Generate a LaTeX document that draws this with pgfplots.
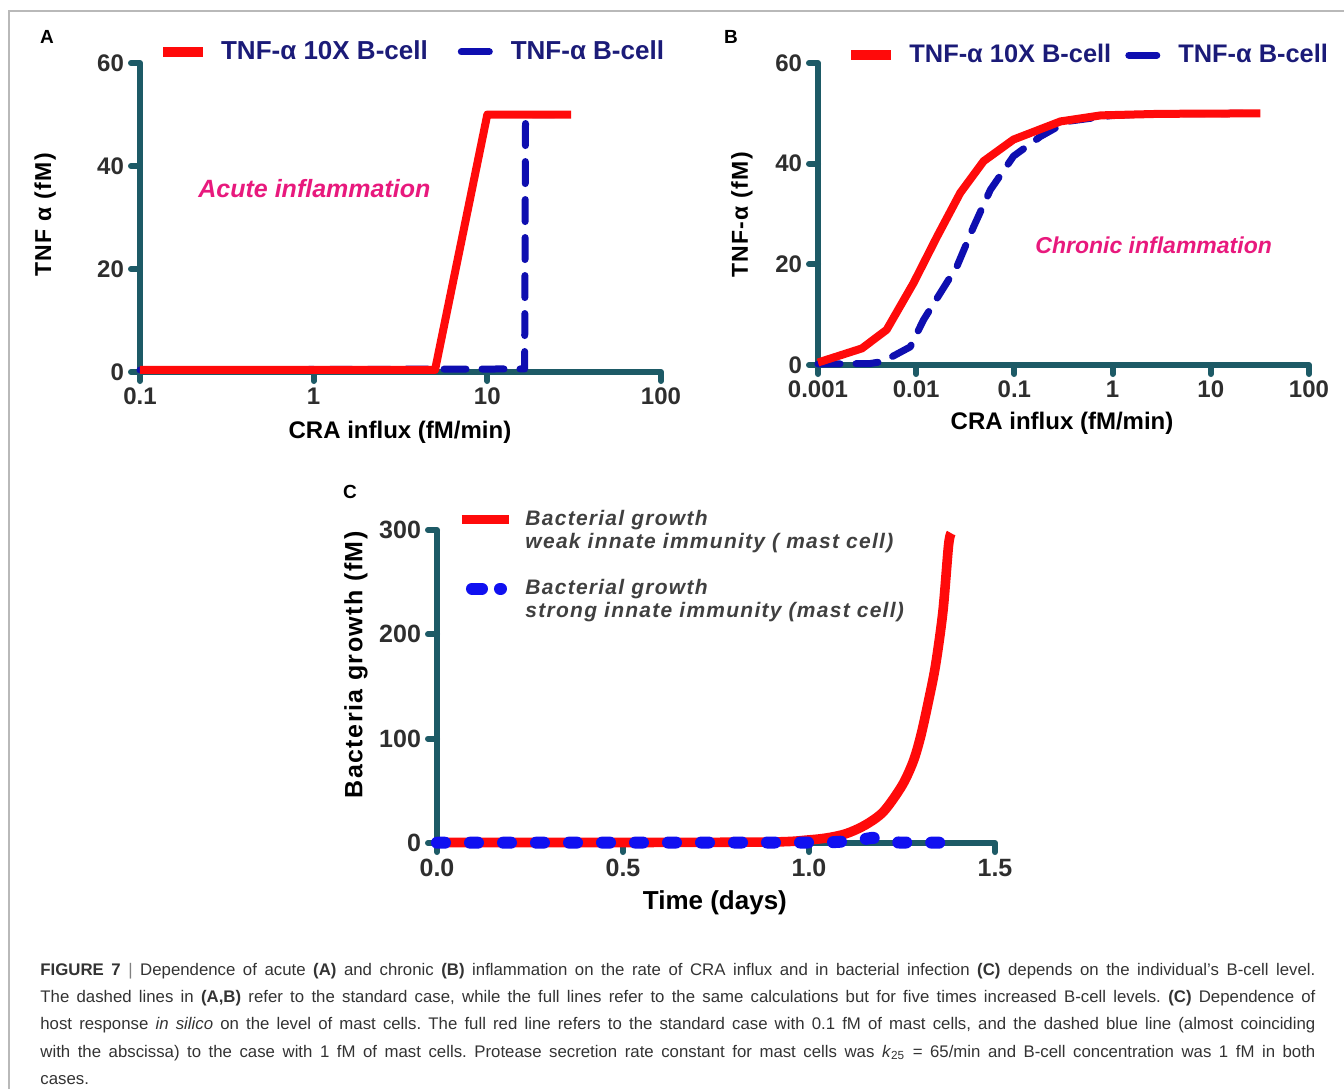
\documentclass[border=0pt]{standalone}
\usepackage{pgfplots}
\pgfplotsset{compat=1.18}
\usepackage{fontspec}
\setmainfont{Liberation Sans}
\newfontfamily\spaced[LetterSpace=6]{Liberation Sans}

\definecolor{axc}{HTML}{1D5A66}
\definecolor{tickc}{HTML}{2E2E2E}
\definecolor{legc}{HTML}{1B1B78}
\definecolor{magc}{HTML}{E8197D}
\definecolor{redc}{HTML}{FF0A0A}
\definecolor{blueab}{HTML}{0E0EB0}
\definecolor{bluec}{HTML}{1010F0}
\definecolor{capc}{HTML}{333333}
\definecolor{legcc}{HTML}{404040}

\tikzset{
  redl/.style={redc, line width=4pt, line join=round},
  bluel/.style={blueab, line width=3.5pt, dash pattern=on 11pt off 8pt, line cap=round, line join=round},
  redlc/.style={redc, line width=4.8pt, line join=round},
  bluelc/.style={bluec, line width=6pt, dash pattern=on 4pt off 12.5pt, line cap=round, line join=round},
}
\pgfplotsset{
  panel/.style={
    scale only axis, anchor=south west, clip=false,
    axis lines*=left,
    axis line style={line width=3pt, color=axc},
    tick align=outside, major tick length=4.5pt,
    tick style={line width=3pt, color=axc, line cap=round},
    ticklabel style={font=\fontsize{12}{14}\selectfont\bfseries, text=tickc},
    /pgf/number format/assume math mode=true,
  },
  redleg/.style={legend image code/.code={\draw[redl, line width=5pt] (0pt,0pt) -- (20pt,0pt);}},
  blueleg/.style={legend image code/.code={\draw[bluel, dash pattern=on 14pt off 20pt] (1.75pt,0pt) -- (16pt,0pt); \path[draw=none] (0pt,0pt) -- (20pt,0pt);}},
  redlegc/.style={legend image code/.code={\draw[redlc, line width=4.5pt] (0pt,0pt) -- (23.5pt,0pt);}},
  bluelegc/.style={legend image code/.code={\draw[bluelc, dash pattern=on 5pt off 9pt] (5pt,0pt) -- (19.5pt,0pt); \path[draw=none] (0pt,0pt) -- (23.5pt,0pt);}},
}

\begin{document}
\begin{tikzpicture}
\begin{scope}[x=0.5pt,y=-0.5pt]
\useasboundingbox (0,0) rectangle (1344,1089);
\draw[gray!55, line width=1pt] (9,1089) -- (9,11) -- (1344,11);
\node[font=\fontsize{9.5}{10}\selectfont\bfseries] at (47,37) {A};
\node[font=\fontsize{9.5}{10}\selectfont\bfseries] at (731,37) {B};
\node[font=\fontsize{9.5}{10}\selectfont\bfseries] at (350,492) {C};
\node[anchor=north west, inner sep=0pt, text width=637.5pt, align=justify,
      font=\fontsize{8.4}{13.6}\selectfont\frenchspacing, text=capc] at (40,963) {%
\textbf{FIGURE 7} \textcolor{gray}{|} Dependence of acute \textbf{(A)} and chronic \textbf{(B)} inflammation on the rate of CRA influx and in bacterial infection \textbf{(C)} depends on the individual's B-cell level.\linebreak
The dashed lines in \textbf{(A,B)} refer to the standard case, while the full lines refer to the same calculations but for five times increased B-cell levels. \textbf{(C)} Dependence of\linebreak
host response \textit{in silico} on the level of mast cells. The full red line refers to the standard case with 0.1 fM of mast cells, and the dashed blue line (almost coinciding\linebreak
with the abscissa) to the case with 1 fM of mast cells. Protease secretion rate constant for mast cells was \textit{k}\textsubscript{25} = 65/min and B-cell concentration was 1 fM in both\linebreak
cases.};
\end{scope}

% ---- panel A
\begin{axis}[panel, at={(70pt,-186pt)}, width=260.5pt, height=154.5pt,
  xmode=log, xmin=0.1, xmax=100, ymin=0, ymax=60,
  xtick={0.1,1,10,100}, xticklabels={0.1,1,10,100}, xminorticks=false,
  ytick={0,20,40,60},
  xlabel={CRA influx (fM/min)}, ylabel={{\spaced TNF α (fM)}},
  every axis x label/.style={at={(axis description cs:0.499,-0.194)}, anchor=center, font=\fontsize{12}{14}\selectfont\bfseries},
  every axis y label/.style={at={(axis description cs:-0.182,0.508)}, anchor=center, rotate=90, font=\fontsize{11.5}{14}\selectfont\bfseries},
  legend style={draw=none, fill=none, inner sep=0pt, at={(axis description cs:0.034,1.036)}, anchor=west,
    font=\fontsize{13}{15}\selectfont\bfseries, text=legc,
    /tikz/every odd column/.append style={column sep=4.5pt},
    /tikz/every even column/.append style={column sep=13pt}},
  legend columns=-1,
]
\addlegendimage{redleg}
\addlegendentry{TNF-α 10X B-cell}
\addlegendimage{blueleg}
\addlegendentry{TNF-α B-cell}
\addplot[bluel, forget plot] coordinates {(0.1,0.4) (16.4,0.6) (16.6,50) (30,50)};
\addplot[redl, forget plot] coordinates {(0.1,0.4) (5.0,0.4) (10,50) (30.4,50)};
\node[font=\fontsize{12.5}{14}\selectfont\bfseries\itshape, text=magc] at (axis cs:1.01,35.7) {Acute inflammation};
\end{axis}

% ---- panel B
\begin{axis}[panel, at={(409pt,-182.5pt)}, width=245.5pt, height=151pt,
  xmode=log, xmin=0.001, xmax=100, ymin=0, ymax=60,
  xtick={0.001,0.01,0.1,1,10,100}, xticklabels={0.001,0.01,0.1,1,10,100}, xminorticks=false,
  ytick={0,20,40,60},
  xlabel={CRA influx (fM/min)}, ylabel={{\spaced TNF-α (fM)}},
  every axis x label/.style={at={(axis description cs:0.497,-0.192)}, anchor=center, font=\fontsize{12}{14}\selectfont\bfseries},
  every axis y label/.style={at={(axis description cs:-0.155,0.497)}, anchor=center, rotate=90, font=\fontsize{11.5}{14}\selectfont\bfseries},
  legend style={draw=none, fill=none, inner sep=0pt, at={(axis description cs:0.057,1.026)}, anchor=west,
    font=\fontsize{12.7}{14}\selectfont\bfseries, text=legc,
    /tikz/every odd column/.append style={column sep=4.5pt},
    /tikz/every even column/.append style={column sep=5pt}},
  legend columns=-1,
]
\addlegendimage{redleg}
\addlegendentry{TNF-α 10X B-cell}
\addlegendimage{blueleg}
\addlegendentry{TNF-α B-cell}
\addplot[bluel, forget plot] coordinates {(0.001,0.2) (0.0034,0.3) (0.0046,0.7) (0.0087,3.6) (0.0119,9) (0.0176,14.3) (0.026,19.6) (0.0385,27.5) (0.0569,34.8) (0.098,41.5) (0.184,45.4) (0.345,48.4) (1,49.6) (3,49.9) (30,50)};
\addplot[redl, forget plot] coordinates {(0.001,0.5) (0.0028,3.3) (0.005,7) (0.0094,16.3) (0.0163,25.5) (0.0281,34.2) (0.0486,40.5) (0.098,44.8) (0.295,48.4) (0.76,49.6) (3,49.9) (32,50)};
\node[font=\fontsize{11.5}{13}\selectfont\bfseries\itshape, text=magc] at (axis cs:2.62,23.7) {Chronic inflammation};
\end{axis}

% ---- panel C
\begin{axis}[panel, at={(218.5pt,-421.5pt)}, width=279pt, height=156.5pt,
  xmin=0, xmax=1.5, ymin=0, ymax=300,
  xtick={0,0.5,1,1.5}, xticklabels={0.0,0.5,1.0,1.5},
  ytick={0,100,200,300},
  ticklabel style={font=\fontsize{12.5}{14}\selectfont\bfseries},
  xlabel={Time (days)}, ylabel={{\spaced Bacteria growth (fM)}},
  every axis x label/.style={at={(axis description cs:0.498,-0.192)}, anchor=center, font=\fontsize{13}{15}\selectfont\bfseries},
  every axis y label/.style={at={(axis description cs:-0.145,0.569)}, anchor=center, rotate=90, font=\fontsize{12.5}{15}\selectfont\bfseries},
  legend style={draw=none, fill=none, inner sep=0pt, at={(axis description cs:0.036,1.065)}, anchor=north west,
    font=\fontsize{10.5}{12.5}\selectfont\spaced\bfseries\itshape, text=legcc, row sep=2.5pt,
    nodes={inner sep=0pt},
    /tikz/every odd column/.append style={column sep=6pt}},
  legend cell align=left,
]
\addplot[redlc, redlegc, smooth] coordinates {(0,0.5) (0.5,0.5) (0.9,1) (1.0,3) (1.05,5) (1.1,9) (1.15,17) (1.2,30) (1.25,55) (1.28,78) (1.3,102) (1.32,134) (1.34,170) (1.36,222) (1.375,285) (1.382,297)};
\addlegendentry{Bacterial growth}
\addlegendimage{empty legend}
\addlegendentry{weak innate immunity ( mast cell)}
\addlegendimage{empty legend}
\addlegendentry{\rule{0pt}{7.5pt}}
\addplot[bluelc, bluelegc] coordinates {(0,0.3) (1.05,0.5) (1.12,2) (1.17,5) (1.2,4) (1.24,0.5) (1.375,0.3)};
\addlegendentry{Bacterial growth}
\addlegendimage{empty legend}
\addlegendentry{strong innate immunity (mast cell)}
\end{axis}
\end{tikzpicture}
\end{document}
